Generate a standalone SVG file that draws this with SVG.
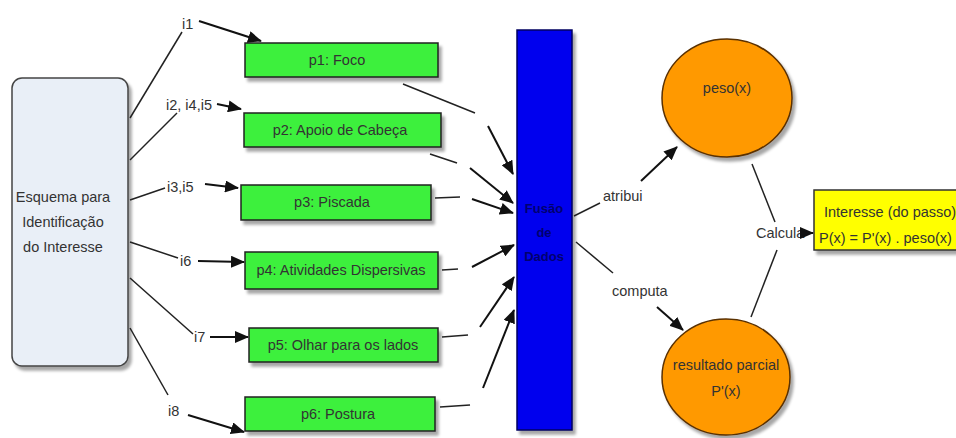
<svg xmlns="http://www.w3.org/2000/svg" width="956" height="438" viewBox="0 0 956 438">
<defs>
<marker id="ah" markerUnits="userSpaceOnUse" markerWidth="14" markerHeight="12" refX="13" refY="6" orient="auto">
<path d="M0,0 L14,6 L0,12 Z" fill="#111"/>
</marker>
<filter id="sh" x="-10%" y="-10%" width="130%" height="140%">
<feGaussianBlur in="SourceAlpha" stdDeviation="1.5"/>
<feOffset dx="3" dy="4" result="b"/>
<feComponentTransfer><feFuncA type="linear" slope="0.35"/></feComponentTransfer>
<feMerge><feMergeNode/><feMergeNode in="SourceGraphic"/></feMerge>
</filter>
</defs>
<style>
text{font-family:"Liberation Sans",Arial,sans-serif;fill:#333;font-size:14.5px}
.c{text-anchor:middle}
.g{fill:#3cf03c;stroke:#222;stroke-width:1.5}
.o{fill:#ff9900;stroke:#5a3000;stroke-width:1.5}
.ln{stroke:#222;stroke-width:1.5;fill:none}
.ar{stroke:#111;stroke-width:2;fill:none;marker-end:url(#ah)}
text.f{fill:#00006e;font-size:13px;font-weight:bold}
</style>
<rect width="956" height="438" fill="#fff"/>

<g id="esquema">
<rect x="12" y="78" width="116" height="288" rx="10" fill="#e9eff7" stroke="#444" stroke-width="1.5" filter="url(#sh)"/>
<text class="c" x="63" y="202" font-size="15.5">Esquema para</text>
<text class="c" x="63" y="227" font-size="15.5">Identificação</text>
<text class="c" x="63" y="252" font-size="15.5">do Interesse</text>
</g>

<g id="p1"><rect class="g" x="245" y="43" width="193" height="34" filter="url(#sh)"/><text class="c" x="337" y="65">p1: Foco</text></g>
<g id="p2"><rect class="g" x="244" y="113" width="197" height="34" filter="url(#sh)"/><text class="c" x="340" y="135">p2: Apoio de Cabeça</text></g>
<g id="p3"><rect class="g" x="241" y="185" width="190" height="35" filter="url(#sh)"/><text class="c" x="332" y="207">p3: Piscada</text></g>
<g id="p4"><rect class="g" x="245" y="252" width="193" height="37" filter="url(#sh)"/><text class="c" x="341" y="275">p4: Atividades Dispersivas</text></g>
<g id="p5"><rect class="g" x="249" y="328" width="189" height="34" filter="url(#sh)"/><text class="c" x="343" y="350">p5: Olhar para os lados</text></g>
<g id="p6"><rect class="g" x="245" y="397" width="190" height="34" filter="url(#sh)"/><text class="c" x="338" y="419">p6: Postura</text></g>

<g id="fusao">
<rect x="517" y="30" width="55" height="400" fill="#0000ee" stroke="#000060" stroke-width="1.5" filter="url(#sh)"/>
<text class="c f" x="544" y="213">Fusão</text>
<text class="c f" x="544" y="237">de</text>
<text class="c f" x="544" y="261">Dados</text>
</g>

<g id="peso"><ellipse class="o" cx="727" cy="98" rx="65" ry="59" filter="url(#sh)"/><text class="c" x="727" y="93" font-size="13.5">peso(x)</text></g>
<g id="resultado"><ellipse class="o" cx="726" cy="377" rx="64" ry="58" filter="url(#sh)"/><text class="c" x="726" y="370" font-size="13.5">resultado parcial</text><text class="c" x="726" y="396" font-size="13.5">P'(x)</text></g>

<g id="interesse">
<rect x="814" y="190" width="150" height="60" fill="#ffff00" stroke="#333" stroke-width="1.5" filter="url(#sh)"/>
<text x="824" y="217" font-size="14">Interesse (do passo)</text>
<text x="819" y="243" font-size="14">P(x) = P'(x) . peso(x)</text>
</g>

<g id="connectors">
<line class="ln" x1="130" y1="118" x2="182" y2="32"/>
<text x="182" y="29">i1</text>
<line class="ar" x1="199" y1="21" x2="261" y2="41"/>

<line class="ln" x1="130" y1="160" x2="177" y2="113"/>
<text x="166" y="110">i2, i4,i5</text>
<line class="ar" x1="217" y1="104" x2="241" y2="109"/>

<line class="ln" x1="130" y1="200" x2="165" y2="188"/>
<text x="167" y="192">i3,i5</text>
<line class="ar" x1="205" y1="184" x2="238" y2="188"/>

<line class="ln" x1="130" y1="242" x2="178" y2="258"/>
<text x="180" y="266">i6</text>
<line class="ar" x1="198" y1="261" x2="244" y2="262"/>

<line class="ln" x1="130" y1="278" x2="193" y2="334"/>
<text x="194" y="342">i7</text>
<line class="ar" x1="210" y1="337" x2="248" y2="337"/>

<line class="ln" x1="130" y1="328" x2="168" y2="395"/>
<text x="168" y="416">i8</text>
<line class="ar" x1="188" y1="415" x2="244" y2="432"/>

<line class="ln" x1="403" y1="84" x2="475" y2="113"/>
<line class="ar" x1="488" y1="126" x2="513" y2="174"/>
<line class="ln" x1="430" y1="154" x2="457" y2="163"/>
<line class="ar" x1="470" y1="168" x2="513" y2="203"/>
<line class="ln" x1="435" y1="198" x2="460" y2="197"/>
<line class="ar" x1="472" y1="199" x2="513" y2="213"/>
<line class="ln" x1="442" y1="270" x2="458" y2="269"/>
<line class="ar" x1="472" y1="267" x2="514" y2="245"/>
<line class="ln" x1="442" y1="337" x2="468" y2="335"/>
<line class="ar" x1="480" y1="327" x2="514" y2="277"/>
<line class="ln" x1="440" y1="407" x2="470" y2="405"/>
<line class="ar" x1="483" y1="388" x2="514" y2="310"/>

<line class="ln" x1="574" y1="216" x2="600" y2="203"/>
<text x="603" y="201">atribui</text>
<line class="ar" x1="641" y1="181" x2="677" y2="147"/>

<line class="ln" x1="576" y1="242" x2="613" y2="273"/>
<text x="612" y="296">computa</text>
<line class="ar" x1="657" y1="307" x2="683" y2="330"/>

<line class="ln" x1="752" y1="164" x2="775" y2="222"/>
<line class="ln" x1="751" y1="317" x2="777" y2="250"/>
<text x="756" y="238" font-size="13">Calcula</text>
<line class="ar" x1="801" y1="233" x2="813" y2="233"/>
</g>
</svg>
